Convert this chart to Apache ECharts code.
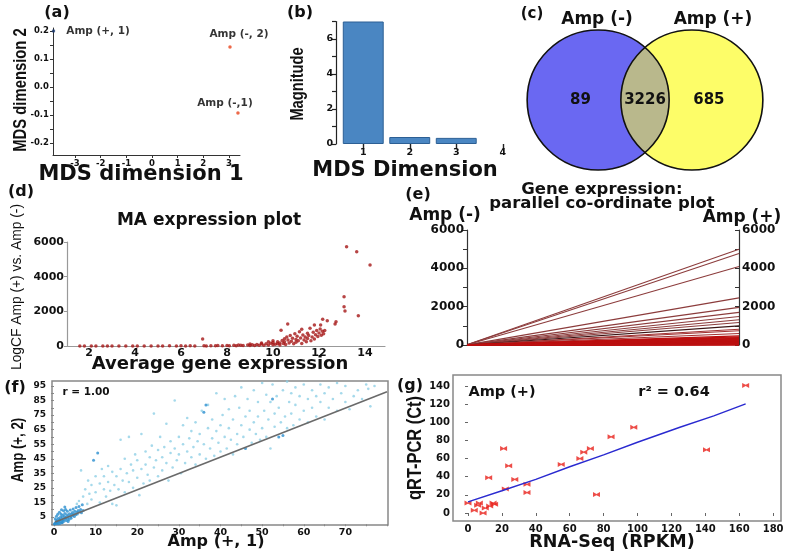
<!DOCTYPE html>
<html><head><meta charset="utf-8">
<script src="https://cdn.jsdelivr.net/npm/echarts@6/dist/echarts.min.js"></script>
<style>html,body{margin:0;padding:0;background:#fff}#c{width:787px;height:554px}</style>
</head><body><div id="c"></div>
<script>
// ---------------- DATA ----------------
// (a) MDS plot
const mdsNames = ['Amp (+, 1)', 'Amp (+, 2)', 'Amp (-, 2)', 'Amp (-,1)'];
const mdsX = [-3.84, -2.57, 3.04, 3.35];
const mdsY = [0.2, -0.245, 0.143, -0.093];
const mdsXTicks = [-3, -2, -1, 0, 1, 2, 3];
const mdsYTicks = [-0.2, -0.1, 0, 0.1, 0.2];
// (b) MDS eigen magnitudes
const mdsDims = ['1', '2', '3', '4'];
const magnitude = [7.0, 0.4, 0.35, 0.0];
// (c) Venn
const vennSets = ['Amp (-)', 'Amp (+)'];
const vennCounts = [89, 3226, 685];
// (d) MA plot [average expression, LogCF]
const maPoints = [
 [1.6,0],[1.8,2],[2.1,0],[2.3,1],[2.6,0],[2.8,3],[3.0,0],[3.3,2],[3.6,4],[3.9,1],[4.1,3],[4.4,5],[4.7,2],[5.0,6],[5.2,3],
 [5.5,8],[5.8,4],[6.0,9],[6.2,5],[6.4,11],[6.6,7],[6.94,404],[7.0,14],[7.1,6],[7.3,18],[7.5,10],[7.6,25],[7.8,12],[8.0,30],
 [8.1,15],[8.3,38],[8.4,20],[8.5,60],[8.6,45],[8.7,22],[8.9,55],[9.0,28],[9.0,120],[9.1,70],[9.2,35],[9.3,90],[9.4,40],
 [9.5,110],[9.5,180],[9.6,50],[9.7,130],[9.8,60],[9.8,250],[9.9,160],[10.0,75],[10.0,200],[10.0,300],[10.1,95],[10.2,250],
 [10.2,130],[10.3,180],[10.3,60],[10.35,905],[10.4,320],[10.45,140],[10.5,420],[10.5,250],[10.55,90],[10.6,520],[10.64,1270],
 [10.65,350],[10.7,180],[10.75,600],[10.8,280],[10.85,450],[10.9,130],[10.95,700],[11.0,380],[11.0,220],[11.05,560],[11.1,300],
 [11.15,820],[11.2,460],[11.25,960],[11.25,150],[11.3,640],[11.35,350],[11.4,520],[11.45,250],[11.5,740],[11.5,430],[11.55,600],
 [11.61,1020],[11.65,300],[11.7,520],[11.75,800],[11.8,1210],[11.8,400],[11.85,650],[11.9,900],[11.95,550],[12.0,750],[12.05,980],
 [12.07,1210],[12.1,620],[12.15,850],[12.16,1540],[12.2,700],[12.25,900],[12.36,1460],[12.7,1270],[12.74,1400],[13.09,2845],
 [13.09,2270],[13.13,2020],[13.2,5730],[13.64,5440],[13.71,1750],[14.22,4675]
];
const maXTicks = [2, 4, 6, 8, 10, 12, 14];
// (e) parallel coordinates: Amp (-) -> Amp (+)
const parMinus = [12,10,9,6,5,4,4,3,3,2,2,2,1,1,1,1,1,0,0,0,0,0,0,0,0,0,0,0,0,0,0,0,0,0,0,0,0,0,0,0,0,0,0,0,0,0,0,0,0,0];
const parPlus  = [5000,4770,4100,2460,1965,1700,1490,1315,1175,1000,825,740,600,475,420,385,350,300,280,260,240,220,200,190,
                  170,160,140,130,120,110,100,90,85,70,65,55,50,45,35,30,25,20,15,10,5,310,230,150,75,40];
// (f) replicate scatter [Amp(+,1), Amp(+,2)]
const fDense = [
 [0.2,0.5],[0.4,1.2],[0.5,2.5],[0.7,0.8],[0.8,3.1],[1.0,1.5],[1.1,4.2],[1.2,2.2],[1.4,0.6],[1.5,3.5],[1.6,5.1],[1.8,2.7],
 [1.9,1.1],[2.0,4.4],[2.1,6.2],[2.2,3.0],[2.4,2.0],[2.5,5.3],[2.6,7.4],[2.7,3.8],[2.9,4.9],[3.0,2.6],[3.1,6.5],[3.2,8.9],
 [3.3,4.1],[3.5,5.6],[3.6,3.3],[3.7,7.2],[3.9,9.8],[4.0,5.0],[4.1,4.2],[4.2,6.8],[4.4,8.1],[4.5,5.9],[4.6,10.5],[4.8,7.3],
 [4.9,5.4],[5.0,9.0],[5.2,6.6],[5.3,11.6],[5.5,8.2],[5.6,7.0],[5.8,9.5],[6.0,12.2],[6.2,8.6],[6.4,10.1],[6.6,7.9],[6.8,13.4],
 [7.0,9.4],[0.3,3.8],[0.6,5.5],[0.9,6.9],[1.3,8.2],[1.7,7.0],[2.3,9.3],[2.8,10.2],[0.1,0.2],[0.5,0.3],[1.0,0.4],[1.5,1.8],
 [2.0,1.3],[3.4,1.9],[2.6,11.8],[1.8,10.0],[9.5,44],[10.5,49],[36,77],[36.5,82],[46,52],[55,61],[54,60],[52.5,86]
];
const fSparse = [
 [5.5,14],[6,16],[6.5,37],[7,19],[7.5,24],[8,14],[8.2,30],[8.5,21],[9,17],[9,27],[10,33],[10,22],[11,15],[11,28],[11.5,38],
 [12,24],[12,33],[12.5,19],[13,29],[13,40],[13.5,23],[14,36],[14,14],[14.5,27],[15,13],[15,33],[15.5,24],[16,58],[16,38],
 [16.5,30],[17,22],[17,45],[17.5,35],[18,60],[18,29],[18.5,41],[19,25],[19,37],[19.5,48],[20,32],[20,44],[20.5,20],[21,38],
 [21,62],[21.5,28],[22,41],[22,50],[22.5,34],[23,46],[23,30],[23.5,54],[24,76],[24,39],[24.5,44],[25,33],[25,51],[25.5,60],
 [26,46],[26,37],[26.5,53],[27,42],[27,69],[27.5,30],[28,49],[28,57],[28.5,39],[29,85],[29,52],[29.5,44],[30,48],[30,60],
 [30.5,35],[31,55],[31,68],[31.5,42],[32,50],[32,73],[32.5,59],[33,46],[33,64],[33.5,53],[34,41],[34,70],[34.5,57],[35,48],
 [35,62],[35.5,78],[36,55],[36.5,45],[37,82],[37,66],[37.5,52],[38,59],[38,72],[38.5,47],[39,64],[39,90],[39.5,56],[40,68],
 [40,50],[40.5,75],[41,60],[41,86],[41.5,52],[42,66],[42,79],[42.5,58],[43,48],[43,72],[43.5,88],[44,62],[44,55],[44.5,80],
 [45,68],[45,94],[45.5,60],[46,74],[46.5,86],[47,65],[47,78],[47.5,56],[48,70],[48,92],[48.5,62],[49,84],[49,74],[49.5,58],
 [50,97],[50,66],[50.5,78],[51,89],[51,60],[51.5,72],[52,52],[52,84],[52.5,96],[53,67],[53,76],[53.5,88],[54,80],[54.5,70],
 [55,92],[55.5,74],[56,98],[56,66],[56.5,84],[57,76],[57,90],[57.5,68],[58,82],[58,94],[59,72],[59,88],[60,78],[60,96],[61,70],
 [61,86],[62,80],[62,92],[63,74],[63,88],[64,84],[64,96],[65,72],[65,90],[66,80],[66,94],[67,86],[68,97],[68,78],[69,90],
 [70,84],[70,95],[71,79],[72,88],[73,92],[74,86],[75,96],[75.5,93],[76,81],[77,95]
];
const fFit = [[0.3, 1.6], [80, 91]];
const fXTicks = [0, 10, 20, 30, 40, 50, 60, 70];
const fYTicks = [5, 15, 25, 35, 45, 55, 65, 75, 85, 95];
// (g) validation RNA-Seq vs qRT-PCR
const rnaSeq = [0, 3.7, 5.7, 6.7, 8.9, 10.2, 12.2, 12.8, 14.8, 15.7, 21, 22, 24, 27.6, 34.8, 34.8, 55, 66, 68.3, 72.2, 75.8, 84.4, 97.8, 140.7, 163.8];
const qPCR   = [11, 3, 8.5, 11, 0, 5.5, 39, 7.7, 11, 9.6, 71, 26.6, 52, 37, 31.7, 22.5, 53.5, 60, 67, 71, 20.3, 84, 94.5, 69.7, 140.6];
const gFit = [[0, 12.2], [20, 24.5], [40, 37], [60, 51], [80, 64], [100, 78], [125, 94.5], [145, 107], [163.8, 120.3]];
const gXTicks = [0, 20, 40, 60, 80, 100, 120, 140, 160, 180];
const gYTicks = [0, 20, 40, 60, 80, 100, 120, 140];

// ---------------- STYLE HELPERS ----------------
const DJ = '"DejaVu Sans"';
const LS = '"Liberation Sans"';
function T(x, y, text, size, o) {
  o = o || {};
  return { type: 'text', x: x, y: y, rotation: o.rot || 0, scaleX: o.sx || 1, z: 100,
    style: { text: text, font: (o.weight || 'bold') + ' ' + size + 'px ' + (o.family || DJ),
      fill: o.color || '#111', align: 'center', verticalAlign: 'middle', textAlign: 'center', textVerticalAlign: 'middle' } };
}
function lab(size, margin, extra) {
  return Object.assign({ fontFamily: 'DejaVu Sans', fontWeight: 'bold', fontSize: size, color: '#111', margin: margin }, extra || {});
}
const range = (a, b, s) => { const r = []; for (let v = a; v <= b + 1e-9; v += s) r.push(+v.toFixed(4)); return r; };
const plain = v => String(v);
const evenK = v => (v % 2000 === 0 ? String(v) : '');

// ---------------- CHART ----------------
const chart = echarts.init(document.getElementById('c'), null, { renderer: 'canvas' });
const mdsLabelPos = [
  { position: 'right', distance: 11 },
  { position: 'top', offset: [33, 3] },
  { position: 'top', offset: [9, 0] },
  { position: 'top', offset: [-13, 3] }
];
const mdsColors = ['#1b3a70', '#1b3a70', '#e8441c', '#e8441c'];
const venn = { cx: [-0.66, 0.66], r: 1, textX: [-0.91, 0, 0.9] };
const parColor = v => (v === 1000 ? '#3a1414' : (v > 900 ? '#8c3c3c' : (v > 500 ? '#a03030' : '#bb1010')));

const parSeries = parPlus.map((v, i) => ({
  type: 'line', xAxisIndex: 6, yAxisIndex: 6, symbol: 'none', silent: true,
  data: [[0, parMinus[i]], [1, v]],
  lineStyle: { color: parColor(v), width: v > 500 ? 1.1 : 1.3 }
}));

const option = {
  animation: false,
  backgroundColor: '#fff',
  grid: [
    { left: 53, top: 28, width: 187, height: 127 },      // a
    { left: 340, top: 21.5, width: 186, height: 122.5 }, // b
    { left: 503, top: 16, width: 294, height: 168 },     // c venn
    { left: 67, top: 242, width: 318, height: 104 },     // d
    { left: 52, top: 381, width: 336, height: 144, show: true, borderColor: '#888', borderWidth: 1.5 }, // f
    { left: 453, top: 375, width: 328, height: 146, show: true, borderColor: '#888', borderWidth: 1.5 }, // g
    { left: 467, top: 230, width: 272, height: 115 }     // e
  ],
  xAxis: [
    { type: 'value', gridIndex: 0, min: -3.86, max: 3.43, splitLine: { show: false },
      axisLine: { show: true, onZero: false, lineStyle: { color: '#333' } },
      axisTick: { show: true, length: 3, customValues: mdsXTicks, lineStyle: { color: '#333' } },
      axisLabel: lab(8.5, 4, { customValues: mdsXTicks }) },
    { type: 'category', gridIndex: 1, data: mdsDims, axisLine: { show: false },
      axisTick: { show: true, alignWithLabel: true, length: 5, lineStyle: { color: '#222', width: 1.4 } },
      offset: 1, axisLabel: lab(9.5, 3) },
    { type: 'value', gridIndex: 2, min: -2, max: 2, show: false },
    { type: 'value', gridIndex: 3, min: 1.043, max: 14.87, splitLine: { show: false },
      axisLine: { show: true, onZero: false, lineStyle: { color: '#999', width: 1.2 } },
      axisTick: { show: false },
      axisLabel: lab(11, 2, { customValues: maXTicks }) },
    { type: 'value', gridIndex: 4, min: -0.48, max: 80.24, splitLine: { show: false },
      axisLine: { show: false },
      axisTick: { show: true, length: 2, customValues: range(0, 80, 5), lineStyle: { color: '#888' } },
      axisLabel: lab(9.5, 3, { customValues: fXTicks }) },
    { type: 'value', gridIndex: 5, min: -8.85, max: 184.65, splitLine: { show: false },
      axisLine: { show: false },
      axisTick: { show: true, length: 3, customValues: gXTicks, lineStyle: { color: '#666' } },
      axisLabel: lab(10, 3, { customValues: gXTicks }) },
    { type: 'value', gridIndex: 6, min: 0, max: 1, show: false }
  ],
  yAxis: [
    { type: 'value', gridIndex: 0, min: -0.243, max: 0.2107, splitLine: { show: false },
      axisLine: { show: true, onZero: false, lineStyle: { color: '#333' } },
      axisTick: { show: true, length: 3, customValues: range(-0.2, 0.2, 0.05), lineStyle: { color: '#333' } },
      axisLabel: lab(8.5, 4, { customValues: mdsYTicks, formatter: v => (Math.abs(v) < 1e-9 ? '0.0' : v.toFixed(1)) }) },
    { type: 'value', gridIndex: 1, min: 0, max: 7, interval: 1, offset: 4, splitLine: { show: false },
      axisLine: { show: true, lineStyle: { color: '#222', width: 1.2 } },
      axisTick: { show: true, length: 4, lineStyle: { color: '#222', width: 1.2 } },
      axisLabel: lab(9.5, 3, { formatter: v => (v % 2 === 0 ? String(v) : '') }) },
    { type: 'value', gridIndex: 2, min: -1.2, max: 1.2, show: false },
    { type: 'value', gridIndex: 3, min: 0, max: 6000, interval: 2000, splitLine: { show: false },
      axisLine: { show: true, lineStyle: { color: '#999', width: 1.2 } },
      axisTick: { show: true, length: 3, lineStyle: { color: '#999' } },
      axisLabel: lab(11, 3, { formatter: plain }) },
    { type: 'value', gridIndex: 4, min: -0.5, max: 98.4, splitLine: { show: false },
      axisLine: { show: false },
      axisTick: { show: true, length: 3, customValues: range(0, 95, 5), lineStyle: { color: '#888' } },
      axisLabel: lab(9, 6, { customValues: fYTicks }) },
    { type: 'value', gridIndex: 5, min: -8.8, max: 152.1, splitLine: { show: false },
      axisLine: { show: false },
      axisTick: { show: true, length: 3, customValues: gYTicks, lineStyle: { color: '#666' } },
      axisLabel: lab(10, 3, { customValues: gYTicks }) },
    { type: 'value', gridIndex: 6, position: 'left', min: 0, max: 6000, interval: 1000, splitLine: { show: false },
      axisLine: { show: true, lineStyle: { color: '#333', width: 1.2 } },
      axisTick: { show: true, length: 4, lineStyle: { color: '#333' } },
      axisLabel: lab(12, 3, { formatter: evenK }) },
    { type: 'value', gridIndex: 6, position: 'right', min: 0, max: 6000, interval: 1000, splitLine: { show: false },
      axisLine: { show: true, lineStyle: { color: '#333', width: 1.2 } },
      axisTick: { show: true, inside: true, length: 4, lineStyle: { color: '#333' } },
      axisLabel: lab(12, 3, { formatter: evenK }) }
  ],
  series: [
    // (a)
    { type: 'scatter', xAxisIndex: 0, yAxisIndex: 0, symbolSize: 3.5,
      data: mdsX.map((x, i) => ({ value: [x, mdsY[i]], name: mdsNames[i], itemStyle: { color: mdsColors[i] },
        label: Object.assign({ show: true, formatter: '{b}', fontFamily: 'DejaVu Sans', fontWeight: 'bold', fontSize: 10.5, color: '#000' }, mdsLabelPos[i]) })) },
    // (b)
    { type: 'bar', xAxisIndex: 1, yAxisIndex: 1, barCategoryGap: '12%',
      data: magnitude.map(v => (v > 0 ? v : { value: v, itemStyle: { borderWidth: 0 } })),
      itemStyle: { color: '#4a86c2', borderColor: '#2c5f94', borderWidth: 1 } },
    // (c) Venn
    { type: 'custom', xAxisIndex: 2, yAxisIndex: 2, data: [[0, 0]], silent: true,
      renderItem: function (params, api) {
        const c0 = api.coord([venn.cx[0], 0]), c1 = api.coord([venn.cx[1], 0]);
        const s = api.size([venn.r, venn.r]); const rx = s[0], ry = s[1];
        const ell = (c) => `M ${c[0] - rx} ${c[1]} A ${rx} ${ry} 0 1 0 ${c[0] + rx} ${c[1]} A ${rx} ${ry} 0 1 0 ${c[0] - rx} ${c[1]} Z`;
        const mx = (c0[0] + c1[0]) / 2, my = c0[1];
        const d = (c1[0] - c0[0]) / 2;
        const h = ry * Math.sqrt(1 - (d / rx) * (d / rx));
        const lens = `M ${mx} ${my - h} A ${rx} ${ry} 0 0 0 ${mx} ${my + h} A ${rx} ${ry} 0 0 0 ${mx} ${my - h} Z`;
        const kids = [
          { type: 'path', shape: { pathData: ell(c0) }, style: { fill: '#6a68f2', stroke: null } },
          { type: 'path', shape: { pathData: ell(c1) }, style: { fill: '#fdfd68', stroke: null } },
          { type: 'path', shape: { pathData: lens }, style: { fill: '#b9b88c', stroke: null } },
          { type: 'path', shape: { pathData: ell(c0) }, style: { fill: null, stroke: '#111', lineWidth: 1.6 } },
          { type: 'path', shape: { pathData: ell(c1) }, style: { fill: null, stroke: '#111', lineWidth: 1.6 } }
        ];
        vennCounts.forEach((v, i) => {
          const p = api.coord([venn.textX[i], 0]);
          kids.push({ type: 'text', x: p[0], y: p[1], style: { text: String(v), font: 'bold 15px "DejaVu Sans"', fill: '#111', align: 'center', verticalAlign: 'middle' } });
        });
        return { type: 'group', children: kids };
      } },
    // (d)
    { type: 'scatter', xAxisIndex: 3, yAxisIndex: 3, symbolSize: 3.5, data: maPoints, itemStyle: { color: '#a51616' } },
    // (f)
    { type: 'scatter', xAxisIndex: 4, yAxisIndex: 4, symbolSize: 2.6, data: fSparse, itemStyle: { color: '#8fcfe6' } },
    { type: 'scatter', xAxisIndex: 4, yAxisIndex: 4, symbolSize: 3, data: fDense, itemStyle: { color: '#2a8ed0' } },
    { type: 'line', xAxisIndex: 4, yAxisIndex: 4, data: fFit, symbol: 'none', lineStyle: { color: '#6a6a6a', width: 1.6 } },
    // (g)
    { type: 'line', xAxisIndex: 5, yAxisIndex: 5, data: gFit, symbol: 'none', lineStyle: { color: '#2a2ad0', width: 1.4 } },
    { type: 'scatter', xAxisIndex: 5, yAxisIndex: 5, symbol: 'path://M0,0L3,1.5L6,0L6,4L3,2.5L0,4Z', symbolSize: [7, 5],
      data: rnaSeq.map((x, i) => [x, qPCR[i]]), itemStyle: { color: '#e8201a' } }
  ].concat(parSeries),
  graphic: [
    T(57, 13, '(a)', 16),
    T(21, 90, 'MDS dimension 2', 19, { rot: Math.PI / 2, family: LS, sx: 0.78 }),
    T(141, 175, 'MDS dimension 1', 21),
    T(300, 13, '(b)', 16),
    T(298, 84, 'Magnitude', 19, { rot: Math.PI / 2, family: LS, sx: 0.77 }),
    T(405, 171, 'MDS Dimension', 21),
    T(532, 14, '(c)', 15),
    T(597, 20, vennSets[0], 17),
    T(713, 20, vennSets[1], 17),
    T(21, 192, '(d)', 16),
    T(209, 221, 'MA expression plot', 17),
    T(17, 287, 'LogCF Amp (+) vs. Amp (-)', 15, { rot: Math.PI / 2, family: LS, weight: 'normal', sx: 0.92 }),
    T(220, 364, 'Average gene expression', 18),
    T(418, 195, '(e)', 16),
    T(602, 190, 'Gene expression:', 16.5),
    T(602, 204, 'parallel co-ordinate plot', 16.5),
    T(445, 216, 'Amp (-)', 17),
    T(742, 218, 'Amp (+)', 17),
    T(15, 388, '(f)', 16),
    T(86, 392, 'r = 1.00', 10.5),
    T(18, 450, 'Amp (+, 2)', 17, { rot: Math.PI / 2, family: LS, sx: 0.78 }),
    T(216, 542, 'Amp (+, 1)', 16),
    T(410, 386, '(g)', 16),
    T(502, 392, 'Amp (+)', 14.5),
    T(674, 392, 'r² = 0.64', 14.5),
    T(415, 448, 'qRT-PCR (Ct)', 20, { rot: Math.PI / 2, family: LS, sx: 0.82 }),
    T(612, 542, 'RNA-Seq (RPKM)', 17.5)
  ]
};
chart.setOption(option);
</script>
</body></html>
